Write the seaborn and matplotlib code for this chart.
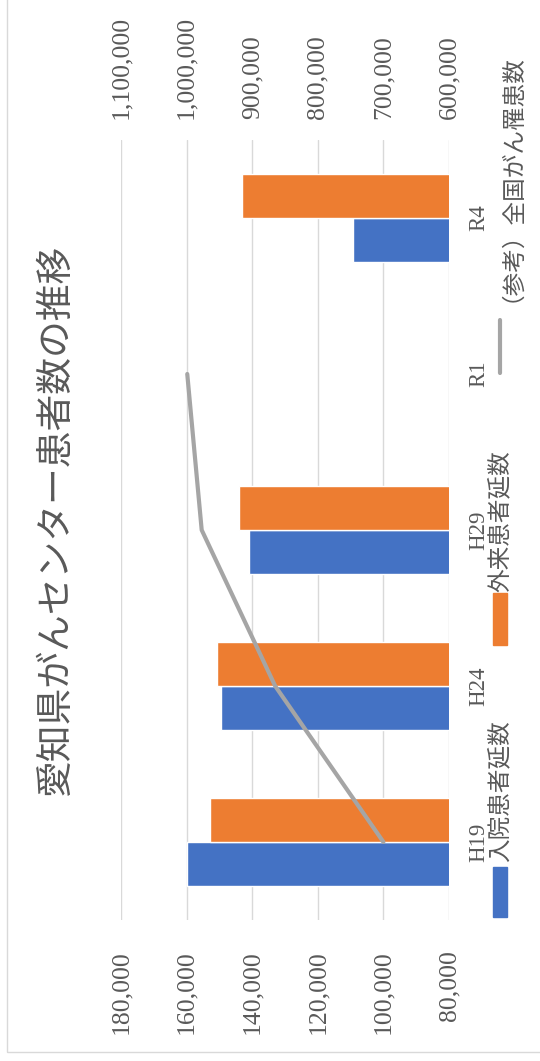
import pandas as pd
import seaborn as sns
import matplotlib.pyplot as plt
from matplotlib.patches import Rectangle
from matplotlib.lines import Line2D

# DONNEES
annees = ["H19", "H24", "H29", "R1", "R4"]
nyuin = [159900, 149500, 141000, None, 109300]      # 入院患者延数
gairai = [152900, 150700, 144000, None, 143100]     # 外来患者延数
zenkoku = [700000, 865000, 977000, 999000, None]    # 全国がん罹患数
ticks_gauche = [80000, 100000, 120000, 140000, 160000, 180000]
ticks_droite = [600000, 700000, 800000, 900000, 1000000, 1100000]
noms = ["入院患者延数", "外来患者延数"]
couleurs = ["#4472c4", "#ed7d31"]
gris = "#a5a5a5"
texte = "#595959"

rows = []
for i, a in enumerate(annees):
    for nom, vals in zip(noms, [nyuin, gairai]):
        if vals[i] is not None:
            rows.append({"annee": a, "pos": i, "serie": nom, "valeur": vals[i]})
df = pd.DataFrame(rows)
ligne = pd.DataFrame({"pos": [i for i, v in enumerate(zenkoku) if v is not None],
                      "valeur": [v for v in zenkoku if v is not None]})

sns.set_style("white")
plt.rcParams["font.family"] = ["Noto Sans CJK JP", "DejaVu Sans"]
serif = ["Liberation Serif", "Noto Sans CJK JP"]
cjk = ["Noto Sans CJK JP", "DejaVu Sans"]

W, H = 540, 1061
fig = plt.figure(figsize=(W / 100, H / 100), dpi=100)
ax = fig.add_axes([121 / W, 141 / H, 328 / W, 780 / H])

sns.barplot(data=df, x="valeur", y="pos", hue="serie", hue_order=noms,
            palette=couleurs, orient="h", native_scale=True, width=0.565,
            saturation=1, errorbar=None, legend=False, ax=ax)
ax.set_xlim(180000, 80000)
ax.set_ylim(-0.5, 4.5)
ax.set_xticks(ticks_gauche)
ax.set_xticklabels([f"{t:,}" for t in ticks_gauche], rotation=90,
                   family=serif, fontsize=18.5, color=texte)
ax.set_yticks(range(len(annees)))
ax.set_yticklabels(annees, rotation=90, va="center", family=serif,
                   fontsize=16.5, color=texte)
ax.yaxis.tick_right()
ax.tick_params(axis="x", length=0, pad=22)
ax.tick_params(axis="y", length=0, pad=14)
ax.xaxis.grid(True, color="#d9d9d9", lw=1)
ax.yaxis.grid(False)
ax.set_axisbelow(True)
ax.set_xlabel("")
ax.set_ylabel("")
for s in ax.spines.values():
    s.set_visible(False)

# AXE SECONDAIRE
ax2 = ax.twiny()
sns.lineplot(data=ligne, x="valeur", y="pos", orient="y", sort=False,
             color=gris, lw=3, ax=ax2)
ax2.set_xlim(1100000, 600000)
ax2.set_ylim(-0.5, 4.5)
ax2.set_xticks(ticks_droite)
ax2.set_xticklabels([f"{t:,}" for t in ticks_droite], rotation=90,
                    family=serif, fontsize=18.5, color=texte)
ax2.tick_params(axis="x", length=0, pad=15)
ax2.grid(False)
ax2.set_xlabel("")
ax2.set_ylabel("")
for s in ax2.spines.values():
    s.set_visible(False)

# TITRE
fig.text(55 / W, 1 - 520 / H, "愛知県がんセンター患者数の推移", rotation=90,
         ha="center", va="center", fontsize=26.5, color=texte, family=cjk)

# LEGENDE
fig.add_artist(Rectangle((493 / W, 1 - 917 / H), 14 / W, 50 / H,
                         color=couleurs[0], transform=fig.transFigure))
fig.text(500 / W, 1 - 862 / H, noms[0], rotation=90, ha="center", va="bottom",
         fontsize=17, color=texte, family=cjk)
fig.add_artist(Rectangle((493 / W, 1 - 645 / H), 14 / W, 52 / H,
                         color=couleurs[1], transform=fig.transFigure))
fig.text(500 / W, 1 - 592 / H, noms[1], rotation=90, ha="center", va="bottom",
         fontsize=17, color=texte, family=cjk)
fig.add_artist(Line2D([500 / W, 500 / W], [1 - 373 / H, 1 - 320 / H],
                      color=gris, lw=3, transform=fig.transFigure))
fig.text(500 / W, 1 - 302 / H, "（参考）全国がん罹患数", rotation=90, ha="center",
         va="bottom", fontsize=17, color=texte, family=cjk)

# CADRE
fig.add_artist(Rectangle((7 / W, 9 / H), 1.2, 1.2, fill=False,
                         edgecolor="#d9d9d9", lw=1, transform=fig.transFigure))

fig.savefig("out.png", dpi=100)
